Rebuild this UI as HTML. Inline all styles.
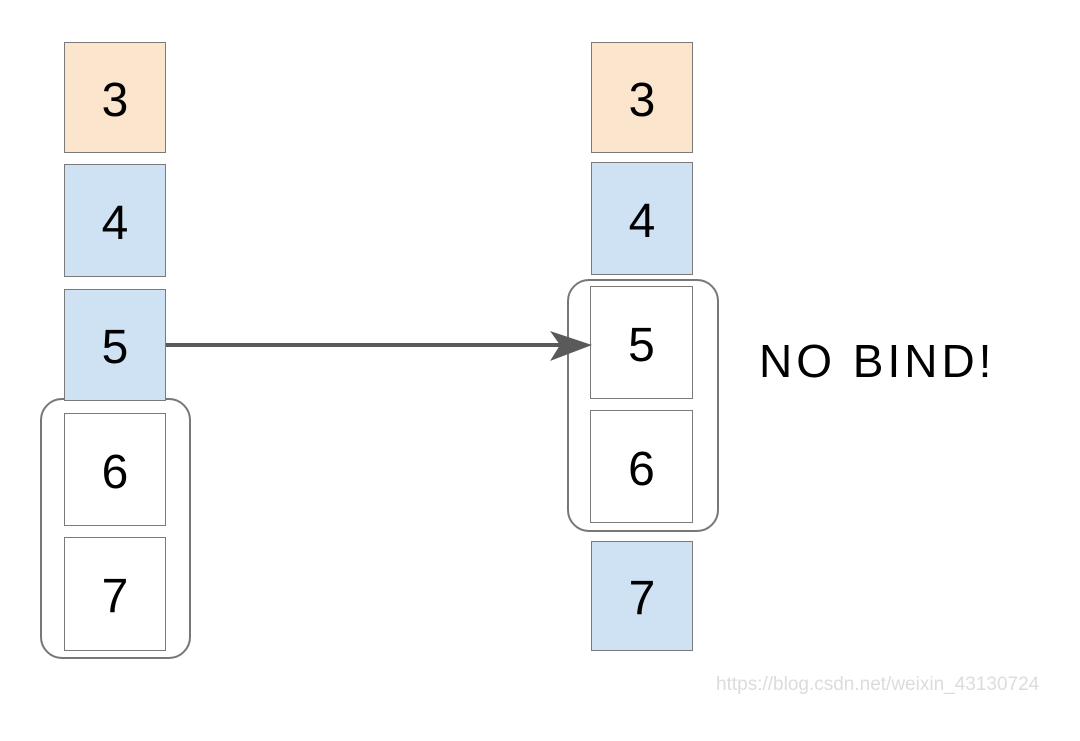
<!DOCTYPE html>
<html><head><meta charset="utf-8"><style>
html,body{margin:0;padding:0;background:#fff;}
body{width:1080px;height:741px;position:relative;overflow:hidden;font-family:"Liberation Sans",sans-serif;}
.b{position:absolute;box-sizing:border-box;border:1.5px solid #7a7a7a;display:flex;align-items:center;justify-content:center;font-size:48px;color:#000;padding-top:5px;}
.p{background:#fce5cd}.u{background:#cfe2f3}.w{background:#fff}
.g{position:absolute;box-sizing:border-box;border:2px solid #777;border-radius:22px;}
</style></head><body>
<div class="g" style="left:40px;top:398px;width:151px;height:261px"></div>
<div class="g" style="left:567px;top:279px;width:152px;height:253px"></div>
<div class="b p" style="left:64px;top:42px;width:102px;height:111px">3</div>
<div class="b u" style="left:64px;top:164px;width:102px;height:113px">4</div>
<div class="b u" style="left:64px;top:289px;width:102px;height:112px">5</div>
<div class="b w" style="left:64px;top:413px;width:102px;height:113px">6</div>
<div class="b w" style="left:64px;top:537px;width:102px;height:114px">7</div>
<div class="b p" style="left:591px;top:42px;width:102px;height:111px">3</div>
<div class="b u" style="left:591px;top:162px;width:102px;height:113px">4</div>
<div class="b w" style="left:590px;top:286px;width:103px;height:113px">5</div>
<div class="b w" style="left:590px;top:410px;width:103px;height:113px">6</div>
<div class="b u" style="left:591px;top:541px;width:102px;height:110px">7</div>
<svg style="position:absolute;left:0;top:0" width="1080" height="741">
<line x1="166" y1="345" x2="570" y2="345" stroke="#5a5a5a" stroke-width="4"/>
<polygon points="592,345 550,331 560,345 550,361" fill="#5a5a5a"/>
</svg>
<div style="position:absolute;left:759px;top:335px;font-size:46px;letter-spacing:4px;color:#000;line-height:52px">NO BIND!</div>
<div style="position:absolute;left:716px;top:674px;font-size:19px;color:#dcdcdc">https://blog.csdn.net/weixin_43130724</div>
</body></html>
